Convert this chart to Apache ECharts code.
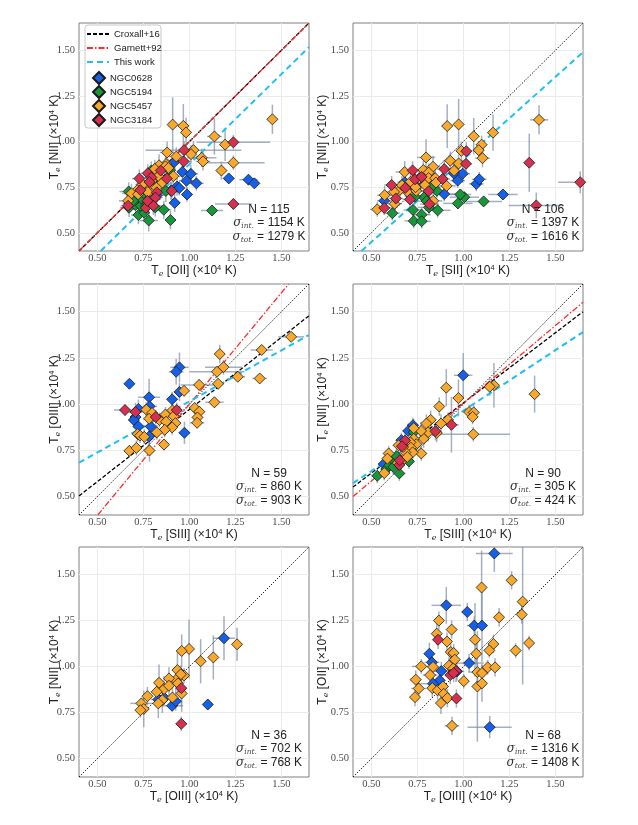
<!DOCTYPE html>
<html><head><meta charset="utf-8">
<script src="https://cdn.jsdelivr.net/npm/echarts@6/dist/echarts.min.js"></script>
<style>html,body{margin:0;padding:0;background:#fff}#c{width:638px;height:825px}</style>
</head><body><div id="c"></div><script>
// ---------- axis / ticks ----------
const axisMin = 0.4, axisMax = 1.65;
const tickValues = [0.5, 0.75, 1.0, 1.25, 1.5];

// ---------- legend / galaxies ----------
const galaxies = ['NGC0628', 'NGC5194', 'NGC5457', 'NGC3184'];
const galaxyColors = ['#1460ea', '#17963b', '#f9a82e', '#d6304f'];
const relationNames = ['Croxall+16', 'Garnett+92', 'This work'];

// ---------- data rows: [x, y, xerr, yerr] (units of 1e4 K) ----------
// Panel 1: Te[OII] vs Te[NII]
const p1_NGC0628 = [[0.918,0.888,0.03,0.05],[0.962,0.834,0.03,0.04],[1.008,0.823,0.04,0.05],[0.984,0.785,0.04,0.05],[1.038,0.771,0.04,0.04],[0.933,0.753,0.03,0.05],[0.945,0.745,0.03,0.04],[0.899,0.731,0.04,0.05],[0.987,0.71,0.03,0.04],[0.92,0.664,0.03,0.05],[1.214,0.798,0.03,0.02],[1.321,0.791,0.05,0.02],[1.353,0.771,0.02,0.02],[0.834,0.791,0.03,0.05],[0.824,0.706,0.04,0.04],[0.774,0.682,0.05,0.05],[0.727,0.691,0.04,0.04],[0.866,0.79,0.03,0.04]];
const p1_NGC5194 = [[1.123,0.622,0.06,0.02],[0.897,0.57,0.03,0.05],[0.779,0.567,0.05,0.06],[0.861,0.626,0.04,0.05],[0.723,0.597,0.04,0.05],[0.754,0.61,0.03,0.05],[0.672,0.637,0.05,0.05],[0.676,0.661,0.04,0.04],[0.707,0.652,0.04,0.05],[0.736,0.648,0.05,0.06],[0.67,0.726,0.05,0.05],[0.709,0.699,0.04,0.05],[0.739,0.688,0.05,0.05],[0.752,0.717,0.04,0.05],[0.793,0.841,0.03,0.05],[0.814,0.639,0.04,0.05],[0.872,0.729,0.05,0.06],[0.806,0.684,0.04,0.04],[0.765,0.648,0.05,0.06],[0.694,0.675,0.04,0.05],[0.895,0.843,0.03,0.05]];
const p1_NGC5457 = [[0.909,1.093,0.02,0.15],[0.967,1.086,0.03,0.12],[0.982,1.05,0.03,0.08],[1.136,1.028,0.04,0.1],[1.194,0.983,0.03,0.09],[1.451,1.122,0.03,0.08],[0.879,0.94,0.04,0.06],[1.022,0.953,0.26,0.05],[1.067,0.911,0.08,0.05],[1.074,0.891,0.04,0.05],[1.009,0.931,0.03,0.05],[1.239,0.884,0.17,0.04],[1.174,0.841,0.03,0.05],[0.873,0.877,0.03,0.05],[0.835,0.87,0.03,0.06],[0.87,0.864,0.04,0.05],[0.808,0.83,0.04,0.05],[0.832,0.81,0.03,0.05],[0.794,0.785,0.04,0.05],[0.85,0.772,0.05,0.06],[0.913,0.81,0.04,0.05],[0.886,0.855,0.04,0.05],[0.779,0.758,0.04,0.05],[0.717,0.734,0.04,0.05],[0.685,0.716,0.05,0.05],[0.667,0.675,0.05,0.05],[0.774,0.723,0.04,0.05],[0.821,0.747,0.04,0.05],[0.746,0.765,0.04,0.05],[0.812,0.85,0.03,0.05],[0.929,0.918,0.04,0.05],[0.721,0.711,0.04,0.04]];
const p1_NGC3184 = [[1.239,0.996,0.2,0.04],[0.971,0.953,0.03,0.05],[0.969,0.891,0.04,0.05],[1.239,0.658,0.1,0.03],[0.728,0.797,0.04,0.05],[0.774,0.826,0.04,0.05],[0.844,0.841,0.03,0.05],[0.877,0.797,0.04,0.05],[0.794,0.803,0.04,0.05],[0.783,0.778,0.03,0.05],[0.823,0.722,0.04,0.05],[0.815,0.693,0.04,0.05],[0.763,0.637,0.04,0.05],[0.804,0.648,0.05,0.05],[0.772,0.675,0.04,0.05],[0.667,0.648,0.04,0.04],[0.734,0.734,0.04,0.05],[0.904,0.729,0.04,0.05]];

// Panel 2: Te[SII] vs Te[NII]
const p2_NGC0628 = [[0.969,0.786,0.04,0.04],[1.07,0.768,0.04,0.04],[1.086,0.793,0.04,0.04],[1.215,0.71,0.08,0.02],[0.896,0.712,0.06,0.04],[0.996,0.824,0.04,0.05],[0.681,0.777,0.04,0.04],[0.57,0.675,0.04,0.04],[0.753,0.764,0.04,0.04],[0.737,0.741,0.04,0.05],[0.947,0.826,0.04,0.05]];
const p2_NGC5194 = [[1.11,0.672,0.1,0.02],[0.97,0.661,0.08,0.03],[1.005,0.695,0.08,0.03],[0.983,0.71,0.06,0.03],[0.856,0.73,0.06,0.04],[0.826,0.75,0.05,0.04],[0.786,0.694,0.06,0.04],[0.8,0.674,0.06,0.04],[0.737,0.697,0.05,0.04],[0.813,0.639,0.06,0.04],[0.86,0.623,0.07,0.04],[0.726,0.625,0.05,0.04],[0.773,0.599,0.05,0.04],[0.73,0.565,0.05,0.04],[0.773,0.563,0.05,0.04],[0.614,0.607,0.04,0.04]];
const p2_NGC5457 = [[0.912,1.085,0.03,0.12],[0.974,1.094,0.03,0.14],[1.056,1.029,0.03,0.1],[1.161,1.049,0.03,0.1],[1.411,1.119,0.05,0.08],[1.099,0.983,0.03,0.05],[1.083,0.953,0.03,0.05],[1.104,0.909,0.04,0.05],[0.989,0.949,0.03,0.05],[0.797,0.913,0.05,0.1],[0.929,0.895,0.03,0.05],[0.974,0.88,0.04,0.05],[0.949,0.84,0.04,0.05],[0.835,0.862,0.04,0.06],[0.782,0.844,0.04,0.05],[0.681,0.833,0.05,0.06],[0.811,0.83,0.04,0.05],[0.811,0.8,0.04,0.05],[0.847,0.799,0.04,0.05],[0.76,0.799,0.04,0.05],[0.713,0.78,0.04,0.05],[0.791,0.762,0.04,0.05],[0.851,0.775,0.04,0.05],[0.909,0.757,0.05,0.05],[0.695,0.726,0.04,0.05],[0.655,0.735,0.04,0.05],[0.623,0.724,0.04,0.05],[0.744,0.73,0.05,0.05],[0.572,0.706,0.04,0.05],[0.626,0.659,0.04,0.05],[0.532,0.628,0.04,0.04],[0.836,0.675,0.05,0.05],[0.74,0.75,0.04,0.05],[0.666,0.761,0.04,0.05]];
const p2_NGC3184 = [[1.016,0.947,0.03,0.05],[1.014,0.878,0.03,0.05],[1.358,0.884,0.03,0.16],[1.635,0.777,0.12,0.06],[1.396,0.65,0.15,0.07],[0.896,0.849,0.04,0.05],[0.887,0.795,0.04,0.05],[0.724,0.842,0.04,0.05],[0.61,0.762,0.04,0.05],[0.633,0.688,0.04,0.05],[0.57,0.636,0.04,0.04],[0.811,0.728,0.05,0.05],[0.737,0.793,0.04,0.05],[0.773,0.806,0.04,0.05],[0.71,0.683,0.04,0.05],[0.815,0.657,0.05,0.05],[0.684,0.746,0.04,0.05]];

// Panel 3: Te[SIII] vs Te[OIII]
const p3_NGC0628 = [[0.674,1.11,0.02,0.02],[0.946,1.199,0.05,0.08],[0.928,1.175,0.04,0.07],[0.946,1.066,0.03,0.05],[0.781,1.037,0.06,0.1],[0.906,1.026,0.03,0.04],[0.784,0.988,0.04,0.06],[0.723,0.974,0.03,0.05],[0.707,0.93,0.03,0.05],[0.698,0.914,0.02,0.04],[0.723,0.879,0.03,0.05],[0.973,0.845,0.03,0.06],[0.79,0.879,0.03,0.05],[0.781,0.825,0.02,0.06]];
const p3_NGC5194 = [];
const p3_NGC5457 = [[1.553,1.364,0.07,0.02],[1.393,1.293,0.06,0.02],[1.165,1.271,0.02,0.05],[1.185,1.2,0.1,0.04],[1.15,1.175,0.15,0.03],[1.263,1.148,0.04,0.02],[1.382,1.139,0.04,0.02],[1.053,1.104,0.1,0.03],[1.156,1.11,0.03,0.03],[0.971,1.072,0.02,0.03],[1.136,1.01,0.05,0.03],[1.029,0.979,0.03,0.03],[1.054,0.959,0.03,0.03],[1.044,0.928,0.03,0.03],[1.042,0.899,0.04,0.03],[0.862,0.781,0.02,0.03],[0.674,0.747,0.02,0.03],[0.712,0.763,0.03,0.04],[0.783,0.749,0.03,0.06],[0.766,0.97,0.04,0.04],[0.797,0.952,0.03,0.04],[0.781,0.921,0.03,0.04],[0.837,0.914,0.03,0.04],[0.87,0.944,0.03,0.04],[0.908,0.966,0.03,0.04],[0.915,0.935,0.03,0.04],[0.873,0.905,0.03,0.04],[0.924,0.897,0.03,0.04],[0.906,0.874,0.03,0.04],[0.866,0.861,0.03,0.04],[0.823,0.847,0.03,0.04],[0.719,0.838,0.03,0.04],[0.732,0.83,0.03,0.04],[0.755,0.823,0.03,0.04]];
const p3_NGC3184 = [[0.65,0.968,0.06,0.03],[0.707,0.957,0.04,0.05],[0.817,0.93,0.03,0.04],[0.931,0.968,0.03,0.04]];

// Panel 4: Te[SIII] vs Te[NII]
const p4_NGC0628 = [[0.999,1.156,0.05,0.12],[0.726,0.886,0.03,0.04],[0.70,0.855,0.03,0.04],[0.663,0.805,0.03,0.04],[0.567,0.676,0.03,0.04],[0.59,0.703,0.03,0.04]];
const p4_NGC5194 = [[0.73,0.848,0.03,0.05],[0.581,0.649,0.03,0.04],[0.532,0.612,0.03,0.04],[0.598,0.669,0.03,0.04],[0.628,0.686,0.03,0.04],[0.652,0.625,0.03,0.04],[0.704,0.69,0.03,0.04],[0.636,0.718,0.03,0.04],[0.619,0.66,0.03,0.04]];
const p4_NGC5457 = [[1.387,1.054,0.02,0.1],[1.166,1.102,0.02,0.12],[1.143,1.094,0.03,0.05],[0.907,1.089,0.03,0.1],[0.973,1.033,0.03,0.1],[0.869,0.987,0.02,0.05],[1.031,0.957,0.03,0.04],[1.056,0.955,0.03,0.04],[1.05,0.931,0.03,0.04],[1.054,0.837,0.2,0.04],[0.916,0.915,0.03,0.04],[0.822,0.915,0.03,0.05],[0.799,0.895,0.03,0.05],[0.878,0.895,0.03,0.05],[0.855,0.844,0.03,0.05],[0.808,0.848,0.03,0.05],[0.784,0.813,0.03,0.05],[0.77,0.855,0.03,0.05],[0.73,0.812,0.03,0.05],[0.744,0.783,0.03,0.05],[0.771,0.733,0.03,0.04],[0.712,0.793,0.03,0.05],[0.715,0.764,0.03,0.05],[0.724,0.739,0.03,0.04],[0.685,0.739,0.03,0.04],[0.695,0.714,0.03,0.04],[0.672,0.768,0.03,0.04],[0.648,0.777,0.03,0.04],[0.594,0.733,0.03,0.04],[0.587,0.705,0.03,0.04],[0.57,0.627,0.03,0.04],[0.661,0.687,0.03,0.04],[0.643,0.681,0.03,0.04],[0.73,0.87,0.03,0.05]];
const p4_NGC3184 = [[0.935,0.888,0.04,0.15],[0.848,0.853,0.03,0.05],[0.683,0.803,0.03,0.04],[0.666,0.772,0.03,0.04],[0.652,0.671,0.03,0.04],[0.654,0.696,0.03,0.04]];

// Panel 5: Te[OIII] vs Te[NII]
const p5_NGC0628 = [[1.188,1.154,0.06,0.12],[1.1,0.794,0.02,0.02],[0.906,0.787,0.06,0.03],[0.926,0.812,0.03,0.05],[0.864,0.83,0.03,0.04],[0.831,0.821,0.04,0.04]];
const p5_NGC5194 = [];
const p5_NGC5457 = [[1.259,1.121,0.02,0.09],[1.13,1.05,0.02,0.12],[1.061,1.029,0.02,0.12],[0.998,1.096,0.02,0.16],[0.958,1.085,0.02,0.09],[0.935,0.981,0.02,0.1],[0.971,0.952,0.02,0.04],[0.953,0.958,0.02,0.05],[0.926,0.927,0.02,0.07],[0.938,0.909,0.02,0.05],[0.889,0.936,0.02,0.06],[0.835,0.912,0.02,0.1],[0.862,0.878,0.02,0.07],[0.889,0.896,0.02,0.06],[0.822,0.863,0.03,0.05],[0.958,0.854,0.02,0.1],[0.908,0.832,0.02,0.06],[0.853,0.818,0.02,0.07],[0.772,0.839,0.02,0.05],[0.831,0.8,0.02,0.08],[0.739,0.8,0.06,0.03],[0.752,0.77,0.02,0.1],[0.734,0.763,0.02,0.04]];
const p5_NGC3184 = [[0.956,0.883,0.02,0.1],[0.956,0.689,0.03,0.04]];

// Panel 6: Te[OIII] vs Te[OII]
const p6_NGC0628 = [[1.168,1.615,0.1,0.1],[0.907,1.333,0.08,0.1],[1.021,1.297,0.03,0.05],[1.059,1.223,0.04,0.05],[1.101,1.223,0.03,0.2],[0.815,1.07,0.03,0.06],[0.829,1.023,0.04,0.05],[1.031,1.019,0.08,0.05],[0.88,0.976,0.04,0.05],[0.965,0.974,0.04,0.05],[0.871,0.925,0.03,0.05],[0.835,0.907,0.07,0.05],[1.143,0.671,0.12,0.06]];
const p6_NGC5194 = [];
const p6_NGC5457 = [[1.262,1.469,0.02,0.05],[1.099,1.43,0.02,0.2],[1.322,1.353,0.02,0.45],[1.317,1.283,0.02,0.05],[1.194,1.268,0.02,0.05],[0.867,1.25,0.02,0.05],[0.936,1.201,0.02,0.05],[0.855,1.179,0.02,0.06],[1.063,1.146,0.02,0.2],[0.911,1.136,0.02,0.05],[1.163,1.123,0.02,0.05],[1.357,1.128,0.02,0.04],[1.284,1.087,0.02,0.04],[1.141,1.088,0.02,0.04],[1.07,1.07,0.03,0.06],[0.931,1.079,0.02,0.05],[0.947,1.074,0.02,0.05],[0.953,1.038,0.02,0.05],[0.771,1.001,0.05,0.04],[0.835,0.998,0.03,0.05],[0.922,1.005,0.03,0.05],[0.945,0.99,0.03,0.05],[1.132,0.996,0.03,0.04],[1.172,0.996,0.02,0.05],[1.076,0.97,0.05,0.05],[1.101,0.965,0.03,0.05],[0.819,0.954,0.04,0.05],[1.002,0.921,0.02,0.04],[0.741,0.929,0.03,0.05],[0.757,0.881,0.04,0.04],[0.737,0.834,0.02,0.05],[0.831,0.883,0.03,0.05],[0.86,0.871,0.03,0.05],[0.889,0.892,0.03,0.05],[0.893,0.852,0.03,0.05],[0.913,0.829,0.03,0.05],[0.878,0.802,0.02,0.06],[1.076,0.892,0.02,0.3],[1.101,0.909,0.02,0.1],[0.938,0.678,0.04,0.05]];
const p6_NGC3184 = [[0.862,1.146,0.02,0.05],[0.929,0.954,0.03,0.05],[0.96,0.976,0.03,0.06],[0.962,0.827,0.02,0.05],[0.947,0.965,0.03,0.05]];

// ---------- relations (endpoints in data units) ----------
const oneToOne = [[0.4,0.4],[1.65,1.65]];
const p1_croxall = [[0.4,0.4],[1.65,1.65]];
const p1_garnett = [[0.4,0.4],[1.65,1.65]];
const p1_thisWork = [[0.518,0.4],[1.65,1.518]];
const p2_thisWork = [[0.446,0.4],[1.65,1.49]];
const p3_garnett = [[0.502,0.4],[1.5395,1.65]];
const p3_croxall = [[0.4,0.503],[1.65,1.478]];
const p3_thisWork = [[0.4,0.683],[1.65,1.374]];
const p4_garnett = [[0.4,0.5],[1.65,1.551]];
const p4_croxall = [[0.4,0.551],[1.65,1.5]];
const p4_thisWork = [[0.4,0.572],[1.65,1.39]];

// ---------- labels & stats ----------
const xLines = ['[OII]', '[SII]', '[SIII]', '[SIII]', '[OIII]', '[OIII]'];
const yLines = ['[NII]', '[NII]', '[OIII]', '[NII]', '[NII]', '[OII]'];
const statN = [115, 106, 59, 90, 36, 68];
const statInt = [1154, 1397, 860, 305, 702, 1316];
const statTot = [1279, 1616, 903, 424, 768, 1408];

// ---------- layout (pixels) ----------
const gridBoxes = [[79,23,230,228],[353,23,230,228],[79,284,230,231],[353,284,230,231],[79,547,230,230],[353,547,230,230]];
const legendCenters = [35, 49, 63, 77, 91, 105, 119];

const panelGroups = [
  [p1_NGC0628, p1_NGC5194, p1_NGC5457, p1_NGC3184],
  [p2_NGC0628, p2_NGC5194, p2_NGC5457, p2_NGC3184],
  [p3_NGC0628, p3_NGC5194, p3_NGC5457, p3_NGC3184],
  [p4_NGC0628, p4_NGC5194, p4_NGC5457, p4_NGC3184],
  [p5_NGC0628, p5_NGC5194, p5_NGC5457, p5_NGC3184],
  [p6_NGC0628, p6_NGC5194, p6_NGC5457, p6_NGC3184]
];
const panelRelations = [
  {croxall: p1_croxall, garnett: p1_garnett, thisWork: p1_thisWork},
  {thisWork: p2_thisWork},
  {croxall: p3_croxall, garnett: p3_garnett, thisWork: p3_thisWork},
  {croxall: p4_croxall, garnett: p4_garnett, thisWork: p4_thisWork},
  {}, {}
];
const relStyles = {
  croxall: {name: 'Croxall+16', color: '#000', width: 1.3, type: [4, 2]},
  garnett: {name: 'Garnett+92', color: '#ff2a2a', width: 1.3, type: [6, 2, 1.5, 2]},
  thisWork: {name: 'This work', color: '#1ec0f2', width: 2, type: [6, 4]}
};

const sans = 'Liberation Sans';
const richName = {
  sub: {fontSize: 8, fontFamily: 'DejaVu Serif', fontStyle: 'italic', verticalAlign: 'bottom', lineHeight: 8, padding: [6,0,0,0], color: '#222'},
  sup: {fontSize: 7.5, fontFamily: sans, verticalAlign: 'top', lineHeight: 8, padding: [0,0,6,0], color: '#222'}
};
function axisName(ion) { return 'T{sub|e} ' + ion + ' (×10{sup|4} K)'; }

const grids = [], xAxes = [], yAxes = [], series = [], graphics = [];
const tickLabelStyle = {fontFamily: 'Liberation Serif', fontSize: 10.5, color: '#4a4a4a'};

gridBoxes.forEach((b, i) => {
  grids.push({left: b[0], top: b[1], width: b[2], height: b[3], show: true, borderColor: '#808080', borderWidth: 1, backgroundColor: 'transparent'});
  const common = {
    type: 'value', gridIndex: i, min: axisMin, max: axisMax,
    axisLine: {show: false}, axisTick: {show: false, customValues: tickValues},
    splitLine: {show: true, lineStyle: {color: '#ebebeb', width: 1}},
    nameLocation: 'middle', nameMoveOverlap: false,
    nameTextStyle: {fontFamily: sans, fontSize: 12, color: '#222', lineHeight: 14, rich: richName}
  };
  xAxes.push(Object.assign({}, common, {
    name: axisName(xLines[i]), nameGap: 13,
    axisLabel: Object.assign({customValues: tickValues, margin: 2, formatter: v => v.toFixed(2)}, tickLabelStyle)
  }));
  yAxes.push(Object.assign({}, common, {
    name: axisName(yLines[i]), nameGap: (i % 2 === 0) ? 17 : 23,
    axisLabel: Object.assign({customValues: tickValues, margin: 4, formatter: v => v.toFixed(2)}, tickLabelStyle)
  }));

  // 1:1 line
  series.push({type: 'line', xAxisIndex: i, yAxisIndex: i, data: oneToOne, symbol: 'none', silent: true, z: 2,
    lineStyle: {color: '#000', width: 1, type: [1.2, 1.6]}});
  const rel = panelRelations[i];
  ['croxall', 'garnett', 'thisWork'].forEach(k => {
    if (!rel[k]) return;
    const s = relStyles[k];
    series.push({name: s.name, type: 'line', xAxisIndex: i, yAxisIndex: i, data: rel[k], symbol: 'none', silent: true, z: 2,
      itemStyle: {color: s.color}, lineStyle: {color: s.color, width: s.width, type: s.type}});
  });

  panelGroups[i].forEach((rows) => {
    series.push({
      type: 'custom', xAxisIndex: i, yAxisIndex: i, data: rows, clip: true, silent: true, z: 1,
      renderItem: (params, api) => {
        const x = api.value(0), y = api.value(1), ex = api.value(2), ey = api.value(3);
        const l = api.coord([x - ex, y]), r = api.coord([x + ex, y]);
        const bt = api.coord([x, y - ey]), t = api.coord([x, y + ey]);
        const st = {stroke: '#7e8ea6', lineWidth: 1.5, opacity: 0.7};
        return {type: 'group', children: [
          {type: 'line', shape: {x1: l[0], y1: l[1], x2: r[0], y2: r[1]}, style: st},
          {type: 'line', shape: {x1: bt[0], y1: bt[1], x2: t[0], y2: t[1]}, style: st}
        ]};
      },
      encode: {x: 0, y: 1}
    });
  });
  panelGroups[i].forEach((rows, g) => {
    series.push({
      name: galaxies[g], type: 'scatter', xAxisIndex: i, yAxisIndex: i,
      data: rows.map(r => [r[0], r[1]]), symbol: 'diamond', symbolSize: 11, z: 3,
      itemStyle: {color: galaxyColors[g], borderColor: '#1a1a1a', borderWidth: 0.8, opacity: 1},
      emphasis: {disabled: true}
    });
  });

  // stats text
  const cx = b[0] + b[2] - 40, by = b[1] + b[3];
  graphics.push({type: 'text', x: cx, y: by - 41, silent: true, z: 10, style: {
    text: 'N = ' + statN[i], align: 'center', verticalAlign: 'middle',
    font: '12px "Liberation Sans"', fill: '#222'}});
  const rich = {
    s: {fontFamily: 'DejaVu Serif', fontStyle: 'italic', fontSize: 12, lineHeight: 15, verticalAlign: 'middle', fill: '#333'},
    sub: {fontFamily: 'DejaVu Serif', fontStyle: 'italic', fontSize: 7.5, lineHeight: 8, verticalAlign: 'bottom', padding: [6,0,0,0], fill: '#444'},
    t: {fontFamily: sans, fontSize: 12, lineHeight: 15, verticalAlign: 'middle', fill: '#222'}
  };
  graphics.push({type: 'text', x: cx, y: by - 28, silent: true, z: 10, style: {
    text: '{s|σ}{sub|int.}{t| = ' + statInt[i] + ' K}', rich: rich, align: 'center', verticalAlign: 'middle'}});
  graphics.push({type: 'text', x: cx, y: by - 14.5, silent: true, z: 10, style: {
    text: '{s|σ}{sub|tot.}{t| = ' + statTot[i] + ' K}', rich: rich, align: 'center', verticalAlign: 'middle'}});
});

// legend frame
graphics.push({type: 'rect', z: 3.5, silent: true, shape: {x: 85, y: 25, width: 76, height: 103, r: 3},
  style: {fill: 'rgba(255,255,255,0.85)', stroke: '#c8c8c8', lineWidth: 1}});

// one legend per entry, stacked at fixed rows
const legends = [];
relationNames.forEach((n, k) => legends.push({
  data: [{name: n, itemStyle: {opacity: 0}}],
  orient: 'vertical', left: 86, top: legendCenters[k] - 6, padding: 0,
  itemWidth: 22, itemHeight: 12, itemTextGap: 1,
  textStyle: {fontFamily: sans, fontSize: 9.5, color: '#222'},
  selectedMode: false, z: 5
}));
galaxies.forEach((n, k) => legends.push({
  data: [{name: n, icon: 'diamond'}],
  orient: 'vertical', left: 92, top: legendCenters[k + 3] - 6, padding: 0,
  itemWidth: 12, itemHeight: 12, itemTextGap: 6,
  textStyle: {fontFamily: sans, fontSize: 9.5, color: '#222'},
  selectedMode: false, z: 5
}));

const chart = echarts.init(document.getElementById('c'), null, {renderer: 'canvas'});
chart.setOption({
  animation: false,
  backgroundColor: '#fff',
  grid: grids, xAxis: xAxes, yAxis: yAxes, series: series, graphic: graphics,
  legend: legends
});
</script></body></html>
